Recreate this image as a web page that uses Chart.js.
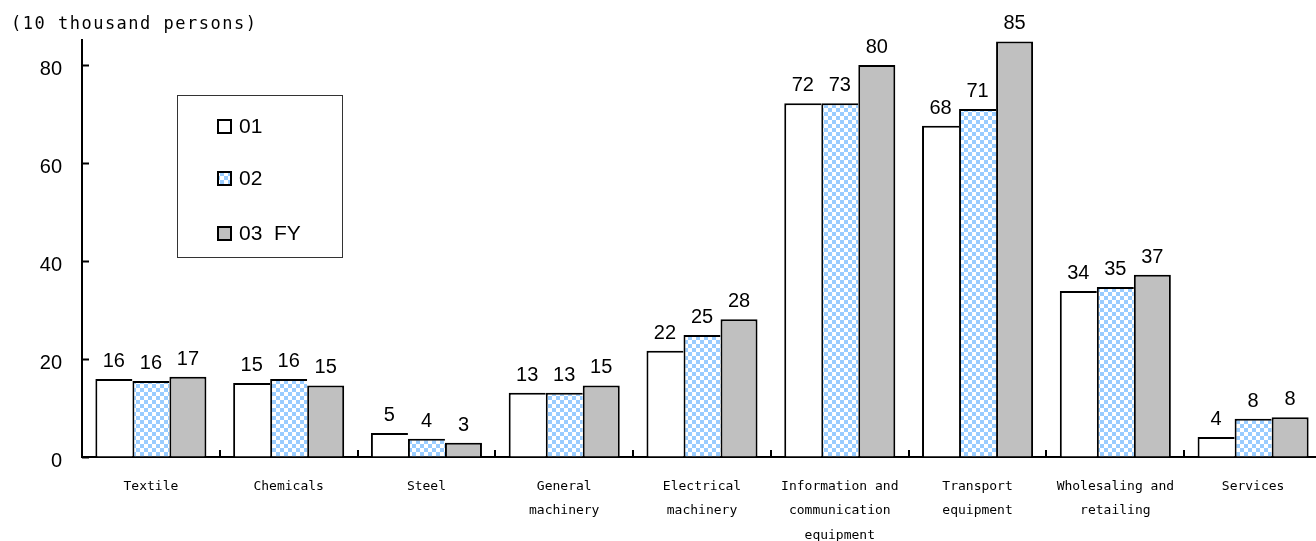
<!DOCTYPE html>
<html>
<head>
<meta charset="utf-8">
<script src="https://cdn.jsdelivr.net/npm/chart.js@4/dist/chart.umd.min.js"></script>
<style>
  html, body { margin: 0; padding: 0; background: #fff; overflow: hidden; }
  #wrap { width: 1316px; height: 541px; overflow: hidden; }
</style>
</head>
<body>
<div id="wrap"><canvas id="chart" width="1324" height="541"></canvas></div>
<script>
// categories and values (10 thousand persons)
const categories = [
  "Textile", "Chemicals", "Steel", ["General", "machinery"], ["Electrical", "machinery"],
  ["Information and", "communication", "equipment"], ["Transport", "equipment"],
  ["Wholesaling and", "retailing"], "Services"
];
const seriesNames = ["01", "02", "03  FY"];
const fy01 = [15.9, 15.1, 4.9, 13.1, 21.7, 72.2, 67.6, 33.9, 4.1];
const fy02 = [15.5, 15.9, 3.7, 13.1, 24.9, 72.2, 71.0, 34.7, 7.8];
const fy03 = [16.4, 14.6, 2.9, 14.6, 28.1, 80.0, 84.8, 37.2, 8.1];
// printed value labels
const labels01 = ["16", "15", "5", "13", "22", "72", "68", "34", "4"];
const labels02 = ["16", "16", "4", "13", "25", "73", "71", "35", "8"];
const labels03 = ["17", "15", "3", "15", "28", "80", "85", "37", "8"];
const yTicks = [0, 20, 40, 60, 80];
const unitText = "(10 thousand persons)";

// checkered blue fill for the 02 series
function makeChecker() {
  const c = document.createElement("canvas");
  c.width = 8; c.height = 8;
  const g = c.getContext("2d");
  g.fillStyle = "#ffffff";
  g.fillRect(0, 0, 8, 8);
  g.fillStyle = "#99ccff";
  g.fillRect(0, 0, 4, 4);
  g.fillRect(4, 4, 4, 4);
  return g.createPattern(c, "repeat");
}

const ctx = document.getElementById("chart").getContext("2d");
const checker = makeChecker();

const sideBorder = { top: 2, left: 2, right: 0, bottom: 0 };

const extras = {
  id: "extras",
  afterDatasetsDraw(chart) {
    const c = chart.ctx;
    const xs = chart.scales.x, ys = chart.scales.y;
    const area = chart.chartArea;
    c.save();
    c.strokeStyle = "#000";
    c.lineWidth = 2;
    // y ticks pointing inward
    yTicks.forEach(v => {
      const y = Math.round(ys.getPixelForValue(v)) + 0.5;
      c.beginPath();
      c.moveTo(area.left, y);
      c.lineTo(area.left + 7, y);
      c.stroke();
    });
    // category separators on x axis
    for (let i = 1; i < categories.length; i++) {
      const x = Math.round(xs.getPixelForValue(i - 0.5));
      c.beginPath();
      c.moveTo(x, area.bottom);
      c.lineTo(x, area.bottom - 7);
      c.stroke();
    }
    // value labels
    const allLabels = [labels01, labels02, labels03];
    c.fillStyle = "#000";
    c.font = "20px 'Liberation Sans', Arial, sans-serif";
    c.textAlign = "center";
    c.textBaseline = "alphabetic";
    chart.data.datasets.forEach((ds, di) => {
      chart.getDatasetMeta(di).data.forEach((bar, i) => {
        c.fillText(allLabels[di][i], bar.x, bar.y - 12);
      });
    });
    // unit label
    c.font = "17px 'DejaVu Sans Mono', monospace";
    c.letterSpacing = "1.5px";
    c.textAlign = "left";
    c.textBaseline = "middle";
    c.fillText(unitText, 11, 25);
    c.letterSpacing = "0px";
    // legend box
    c.lineWidth = 1;
    c.strokeStyle = "#333";
    c.fillStyle = "#fff";
    c.fillRect(177.5, 95.5, 165, 162);
    c.strokeRect(177.5, 95.5, 165, 162);
    const rowY = [126, 178, 233];
    c.font = "21px 'Liberation Sans', Arial, sans-serif";
    chart.data.datasets.forEach((ds, di) => {
      c.fillStyle = ds.backgroundColor;
      c.fillRect(218, rowY[di] - 6, 13, 13);
      c.lineWidth = 2;
      c.strokeStyle = "#000";
      c.strokeRect(218, rowY[di] - 6, 13, 13);
      c.fillStyle = "#000";
      c.fillText(ds.label, 239, rowY[di] + 1);
    });
    c.restore();
  }
};

new Chart(ctx, {
  type: "bar",
  data: {
    labels: categories,
    datasets: [
      { label: seriesNames[0], data: fy01, backgroundColor: "#ffffff", borderColor: "#000", borderWidth: sideBorder, borderSkipped: false },
      { label: seriesNames[1], data: fy02, backgroundColor: checker, borderColor: "#000", borderWidth: sideBorder, borderSkipped: false },
      { label: seriesNames[2], data: fy03, backgroundColor: "#c0c0c0", borderColor: "#000", borderWidth: { top: 2, left: 2, right: 2, bottom: 0 }, borderSkipped: false }
    ]
  },
  options: {
    responsive: false,
    animation: false,
    devicePixelRatio: 1,
    layout: { padding: { top: 40, right: 2, left: 0, bottom: 0 } },
    plugins: {
      legend: { display: false },
      title: { display: false },
      tooltip: { enabled: false }
    },
    datasets: {
      bar: { categoryPercentage: 0.806, barPercentage: 1.0 }
    },
    scales: {
      x: {
        grid: { drawOnChartArea: false, drawTicks: false },
        border: { color: "#000", width: 2 },
        ticks: {
          color: "#000",
          padding: 17,
          maxRotation: 0,
          autoSkip: false,
          font: { family: "'DejaVu Sans Mono', monospace", size: 13, lineHeight: 1.9 }
        },
        afterFit(scale) { scale.height = 84; }
      },
      y: {
        min: 0,
        max: 85.1,
        grid: { drawOnChartArea: false, drawTicks: false },
        border: { color: "#000", width: 2 },
        ticks: {
          stepSize: 20,
          color: "#000",
          padding: 20,
          labelOffset: 4,
          font: { family: "'Liberation Sans', Arial, sans-serif", size: 20 }
        },
        afterBuildTicks(scale) {
          scale.ticks = yTicks.map(v => ({ value: v }));
        },
        afterFit(scale) { scale.width = 82; }
      }
    }
  },
  plugins: [extras]
});
</script>
</body>
</html>
